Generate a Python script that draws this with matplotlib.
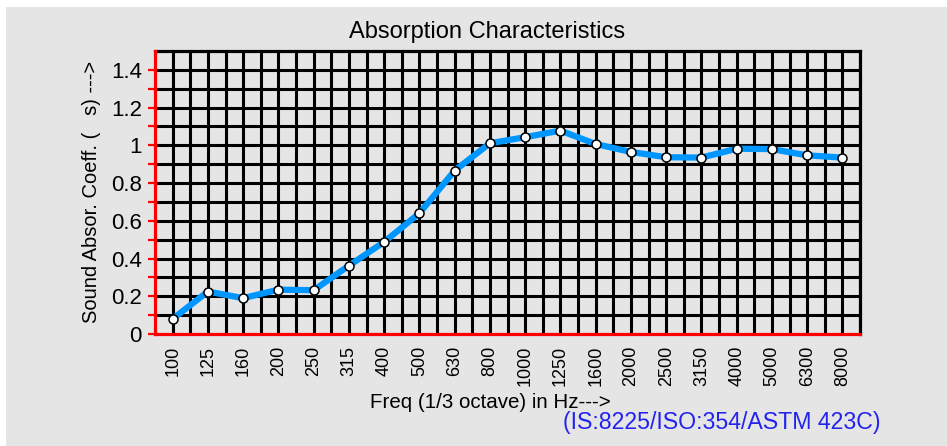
# plot.py
# Curva de absorción sonora por bandas de 1/3 de octava

import matplotlib

matplotlib.use("Agg")
import matplotlib.pyplot as plt
import numpy as np
from matplotlib.patches import Rectangle

# Datos
frecuencias = ["100", "125", "160", "200", "250", "315", "400", "500", "630", "800",
               "1000", "1250", "1600", "2000", "2500", "3150", "4000", "5000", "6300", "8000"]
coeficientes = [0.08, 0.225, 0.19, 0.235, 0.232, 0.362, 0.488, 0.64, 0.866, 1.011,
                1.043, 1.078, 1.007, 0.965, 0.937, 0.935, 0.982, 0.98, 0.947, 0.935]
y_ticks = [0, 0.2, 0.4, 0.6, 0.8, 1.0, 1.2, 1.4]
y_labels = ["0", "0.2", "0.4", "0.6", "0.8", "1", "1.2", "1.4"]
y_minor = [0.1, 0.3, 0.5, 0.7, 0.9, 1.1, 1.3]

FUENTE = "Liberation Sans"
W, H = 947, 446


def graficar_absorcion():
    fig = plt.figure(figsize=(W / 100, H / 100), dpi=100, facecolor="white")
    # fondo gris con borde blanco arriba e izquierda
    fig.patches.append(Rectangle((6 / W, 0), 1, 1 - 7 / H, transform=fig.transFigure,
                                 facecolor="#e5e5e5", edgecolor="none", zorder=-10))

    ax = fig.add_axes([155 / W, 1 - 334 / H, 705 / W, 283 / H])
    ax.set_facecolor("#e5e5e5")

    x = np.arange(len(frecuencias))
    ax.set_xlim(-0.5, len(frecuencias) - 0.5)
    ax.set_ylim(0, 1.5)

    # rejilla: líneas en cada banda y a mitad de banda, y cada 0.1 en horizontal
    ax.vlines(np.arange(0, len(frecuencias) - 0.6, 0.5) + 0.5, 0, 1.5,
              colors="black", linewidth=2.2, zorder=1)
    ax.vlines(0, 0, 1.5, colors="black", linewidth=2.2, zorder=1)
    ax.hlines(y_ticks[1:] + y_minor, -0.5, len(frecuencias) - 0.5,
              colors="black", linewidth=2.2, zorder=1)

    ax.plot(x, coeficientes, color="#0096ff", linewidth=4.5, solid_joinstyle="round",
            solid_capstyle="round", zorder=3)
    ax.plot(x, coeficientes, linestyle="none", marker="o", markersize=6.5,
            markerfacecolor="white", markeredgecolor="black", markeredgewidth=1.1, zorder=4)

    ax.set_xticks(x)
    ax.set_xticklabels(frecuencias, rotation=90, fontsize=13, family=FUENTE)
    ax.tick_params(axis="x", length=0, pad=8.5)

    ax.set_yticks(y_ticks)
    ax.set_yticklabels(y_labels, fontsize=16, family=FUENTE)
    ax.set_yticks(y_minor, minor=True)
    ax.tick_params(axis="y", which="both", length=5.2, width=1.6, color="red",
                   direction="out", pad=4.3)

    for lado in ["left", "bottom"]:
        ax.spines[lado].set_color("red")
        ax.spines[lado].set_linewidth(2.3)
        ax.spines[lado].set_zorder(5)
    for lado in ["top", "right"]:
        ax.spines[lado].set_color("black")
        ax.spines[lado].set_linewidth(2.3)

    fig.text(487.5 / W, 1 - 38.3 / H, "Absorption Characteristics", ha="center",
             va="baseline", fontsize=17, family=FUENTE)
    fig.text(490 / W, 1 - 407.7 / H, "Freq (1/3 octave) in Hz--->", ha="center",
             va="baseline", fontsize=14.8, family=FUENTE)
    fig.text(91.7 / W, 1 - 191.5 / H, "Sound Absor. Coeff. (   s) --->", ha="center",
             va="center", rotation=90, fontsize=14.5, family=FUENTE)
    fig.text(563 / W, 1 - 429 / H, "(IS:8225/ISO:354/ASTM 423C)", ha="left",
             va="baseline", fontsize=16.7, family=FUENTE, color="#2323f0")

    fig.savefig("out.png", dpi=100, facecolor=fig.get_facecolor())
    plt.close(fig)


if __name__ == "__main__":
    graficar_absorcion()
